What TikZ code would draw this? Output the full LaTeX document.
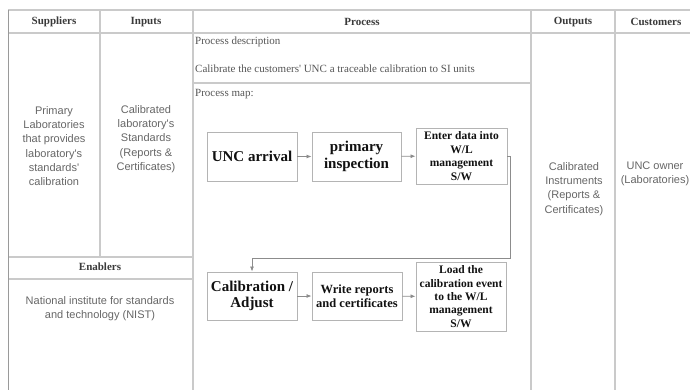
\documentclass[tikz,border=0pt]{standalone}
\usepackage{fontspec}
\setmainfont{Liberation Serif}
\newfontfamily\bodysans{Liberation Sans}
\usetikzlibrary{arrows.meta}
\definecolor{gridline}{HTML}{CACACA}
\definecolor{frameline}{HTML}{9A9A9A}
\definecolor{boxline}{HTML}{B4B4B4}
\definecolor{flowline}{HTML}{8C8C8C}
\definecolor{headtext}{HTML}{3A3A3A}
\definecolor{celltext}{HTML}{666666}
\definecolor{desctext}{HTML}{555555}
\definecolor{boxtext}{HTML}{111111}
\newcommand{\apos}{\textquotesingle}
\tikzset{
  grid/.style={draw=gridline, line width=1.1pt},
  frame/.style={draw=frameline, line width=1pt},
  colhead/.style={font=\fontsize{11}{13}\selectfont\bfseries, text=headtext, inner sep=0pt},
  cell/.style={font=\bodysans\fontsize{11}{14.2}\selectfont, text=celltext, align=center, inner sep=0pt},
  desc/.style={font=\fontsize{11}{13}\selectfont, text=desctext, anchor=west, inner sep=0pt},
  stepbox/.style={draw=boxline, line width=0.9pt, fill=white, text=boxtext, align=center, inner sep=0pt},
  bigstep/.style={stepbox, font=\fontsize{15}{16.5}\selectfont\bfseries},
  midstep/.style={stepbox, font=\fontsize{12.5}{14.5}\selectfont\bfseries},
  smallstep/.style={stepbox, font=\fontsize{11.5}{13.4}\selectfont\bfseries},
  flow/.style={draw=flowline, line width=0.8pt, -{Latex[length=5pt,width=4pt]}},
}
\begin{document}
\begin{tikzpicture}[x=1pt,y=-1pt]
\useasboundingbox (0,0) rectangle (690,389);
\clip (0,0) rectangle (690,389);

% table rules
\draw[grid] (8,10) -- (700,10);
\draw[grid] (8,33) -- (700,33);
\draw[grid] (100,10) -- (100,257);
\draw[grid] (193,10) -- (193,400);
\draw[grid] (531,10) -- (531,400);
\draw[grid] (615,10) -- (615,400);
\draw[grid] (193,83) -- (531,83);
\draw[grid] (8,257) -- (193,257);
\draw[grid] (8,279) -- (193,279);
\draw[frame] (8,10) -- (8,400);

% column headings
\node[colhead] (hsup) at (54,22) {Suppliers};
\node[colhead] (hinp) at (146,22) {Inputs};
\node[colhead] (hproc) at (362,22) {Process};
\node[colhead] (hout) at (573,22) {Outputs};
\node[colhead] (hcust) at (656,22) {Customers};

% column contents
\node[cell] (sup) at (54,146) {Primary\\Laboratories\\that provides\\laboratory\apos s\\standards\apos\\calibration};
\node[cell] (inp) at (146,139) {Calibrated\\laboratory\apos s\\Standards\\(Reports \&\\Certificates)};
\node[cell] (out) at (574,189) {Calibrated\\Instruments\\(Reports \&\\Certificates)};
\node[cell] (cust) at (655,174) {UNC owner\\(Laboratories)};

% enablers
\node[colhead] (henab) at (100,267) {Enablers};
\node[cell] (enab) at (100,309) {National institute for standards\\and technology (NIST)};

% process description
\node[desc] (pdesc) at (195,42) {Process description};
\node[desc] (pgoal) at (195,69) {Calibrate the customers\apos{} UNC a traceable calibration to SI units};
\node[desc] (pmap) at (195,94) {Process map:};

% process map steps
\node[bigstep, minimum width=90pt, minimum height=49pt] (arrival) at (252,156.5) {UNC arrival};
\node[bigstep, minimum width=89pt, minimum height=49pt] (inspect) at (356.5,156.5) {primary\\inspection};
\node[smallstep, minimum width=91pt, minimum height=56pt] (enter) at (461.5,156) {Enter data into\\W/L\\management\\S/W};
\node[bigstep, minimum width=90pt, minimum height=48pt] (calib) at (252,296) {Calibration /\\Adjust};
\node[midstep, minimum width=90pt, minimum height=48pt] (write) at (357,296) {Write reports\\and certificates};
\node[smallstep, minimum width=90pt, minimum height=69pt] (load) at (461,296.5) {Load the\\calibration event\\to the W/L\\management\\S/W};

% connectors
\coordinate (turn) at (510,258);
\draw[flow] (arrival) -- (inspect);
\draw[flow] (inspect) -- (enter);
\draw[flow] (enter.east) -| (turn) -| (calib.north);
\draw[flow] (calib) -- (write);
\draw[flow] (write) -- (load);
\end{tikzpicture}
\end{document}
